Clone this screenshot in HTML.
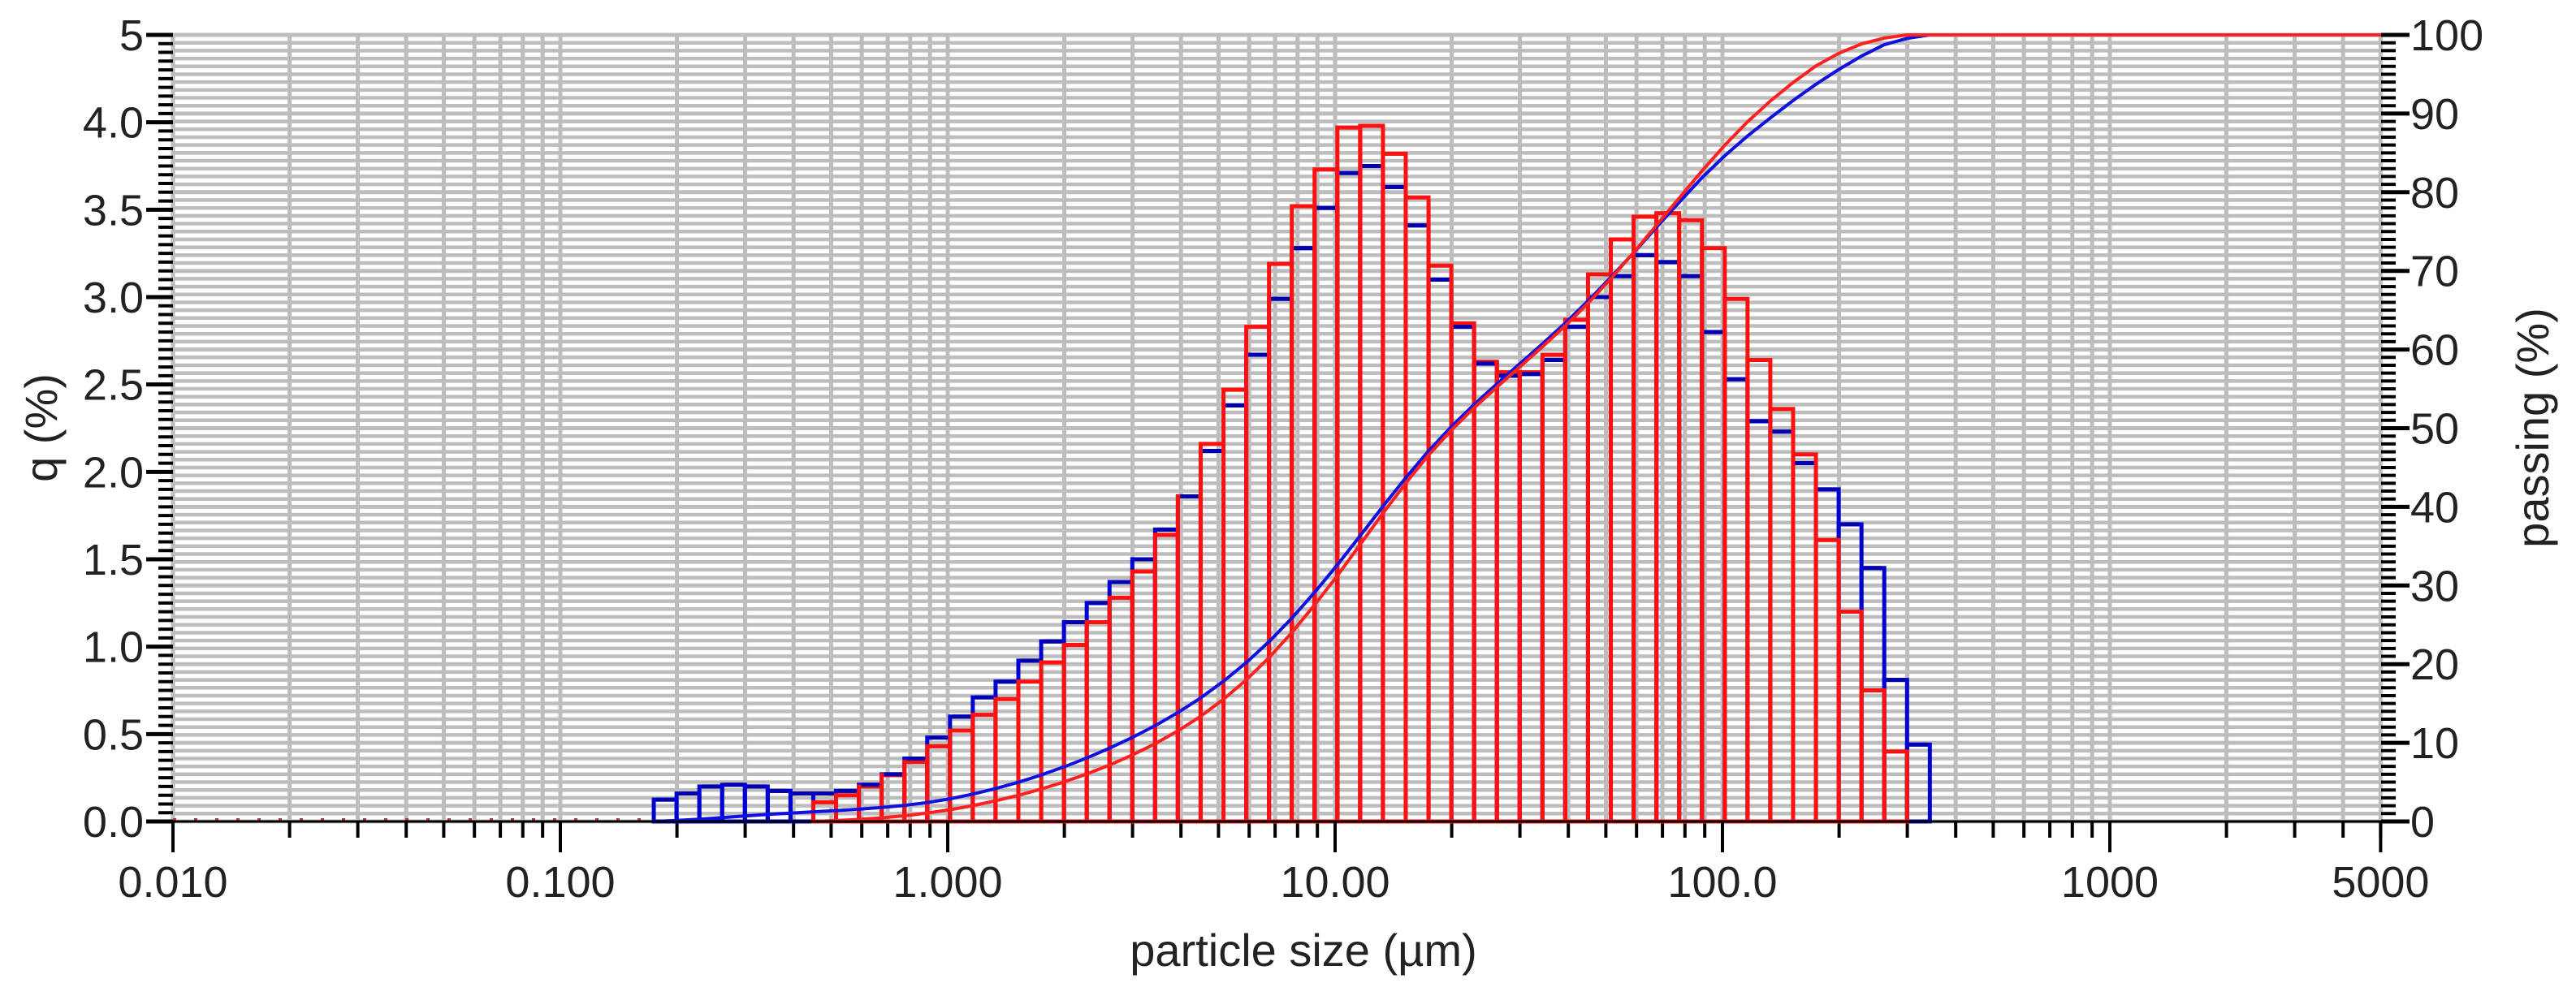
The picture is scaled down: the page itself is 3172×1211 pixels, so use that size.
<!DOCTYPE html>
<html><head><meta charset="utf-8"><style>
html,body{margin:0;padding:0;background:#fff;}
svg{display:block;font-family:"Liberation Sans",sans-serif;}
</style></head><body>
<svg id="chart" width="3172" height="1211" viewBox="0 0 3172 1211" xmlns="http://www.w3.org/2000/svg">
<g id="grid"></g>
<g id="bars"></g>
<g id="curves"></g>
<g id="axes"></g>
<text x="1605" y="1190" font-size="56" text-anchor="middle" fill="#222">particle size (µm)</text>
<text transform="translate(70,527) rotate(-90)" font-size="56" text-anchor="middle" fill="#222">q (%)</text>
<text transform="translate(3138,527) rotate(-90)" font-size="56" text-anchor="middle" fill="#222">passing (%)</text>
</svg>
<script>
// bin index k: bin spans 10^((k+0.1)/17) .. 10^((k+1.1)/17) µm
const blueStart = -13;
const blueQ = [0.125,0.16,0.20,0.21,0.20,0.175,0.16,
 0.16,0.175,0.21,0.27,0.36,0.48,0.60,0.71,0.80,0.92,1.03,1.14,1.25,1.37,1.50,1.67,
 1.86,2.12,2.38,2.67,2.99,3.28,3.51,
 3.71,3.75,3.63,3.41,3.10,2.83,2.62,2.55,2.56,2.64,2.83,3.00,3.12,3.24,3.20,3.12,2.80,2.53,2.29,2.23,2.05,1.90,1.70,1.45,0.81,0.44];
const redStart = -6;
const redQ = [0.11,0.15,0.20,0.265,0.34,0.43,0.52,0.61,0.70,0.80,0.91,1.01,1.14,1.28,1.43,1.64,
 1.86,2.16,2.47,2.83,3.19,3.52,3.73,
 3.97,3.98,3.82,3.57,3.18,2.85,2.63,2.57,2.57,2.67,2.87,3.13,3.33,3.46,3.48,3.44,3.28,2.99,2.64,2.36,2.10,1.61,1.20,0.75,0.40];
const xTicks = [0.01,0.1,1,10,100,1000,5000];
const xTickLabels = ["0.010","0.100","1.000","10.00","100.0","1000","5000"];
const yLeftTicks = [0,0.5,1,1.5,2,2.5,3,3.5,4,4.5];
const yLeftLabels = ["0.0","0.5","1.0","1.5","2.0","2.5","3.0","3.5","4.0","5"];
const yRightTicks = [0,10,20,30,40,50,60,70,80,90,100];

const L=213,R=2932,T=43,B=1012;
const DEC=477, X1=1167;
const NS="http://www.w3.org/2000/svg";
function xs(v){return X1+Math.log10(v)*DEC;}
function yq(v){return B-(v/4.5)*(B-T);}
function yp(v){return B-(v/100)*(B-T);}
function edge(k){return Math.pow(10,(k+0.1)/17);}
function mk(tag,attrs,parent){const e=document.createElementNS(NS,tag);for(const a in attrs)e.setAttribute(a,attrs[a]);parent.appendChild(e);return e;}

const grid=document.getElementById('grid');
mk('rect',{x:L,y:T,width:R-L,height:B-T,fill:'#fff'},grid);
// horizontal grid lines every 1% of right axis
for(let i=0;i<=100;i++){
  const y=yp(i);
  const l=mk('line',{x1:L,x2:R,y1:y,y2:y,stroke:'#bdbdbd','stroke-width':(i%10===0)?5:4.5},grid);
  
  
}
// vertical log grid
for(let d=-2;d<=3;d++){
  for(let m=1;m<=9;m++){
    const v=m*Math.pow(10,d);
    if(v>5000) break;
    const x=xs(v);
    if(x<L-1) continue;
    const l=mk('line',{x1:x,x2:x,y1:T,y2:B,stroke:'#bdbdbd','stroke-width':5},grid);
    
    
    // minor tick below axis
    const t=mk('line',{x1:x,x2:x,y1:B,y2:(m===1)?1048:1032,stroke:'#000','stroke-width':4},grid);
    
    
  }
}

const bars=document.getElementById('bars');
function drawBars(start,vals,color,name){
  vals.forEach((q,i)=>{
    const k=start+i;
    const x0=xs(edge(k)),x1=xs(edge(k+1));
    const r=mk('rect',{x:x0,y:yq(q),width:x1-x0,height:B-yq(q),fill:'none',stroke:color,'stroke-width':5},bars);
    
    
  });
}
drawBars(blueStart,blueQ,'#0000d0','blue-bar');
drawBars(redStart,redQ,'#ff1010','red-bar');
blueQ.forEach((q,i)=>{
  const k=blueStart+i;
  const t=mk('line',{x1:xs(edge(k))+3,x2:xs(edge(k+1))-3,y1:yq(q),y2:yq(q),stroke:'#0000b0','stroke-width':5},bars);
  
  
});

const curves=document.getElementById('curves');
mk('line',{x1:L,x2:xs(edge(blueStart)),y1:B-2,y2:B-2,stroke:'#c03030','stroke-width':4,'stroke-dasharray':'4 22'},curves);
function drawCum(start,vals,color,name){
  const tot=vals.reduce((a,b)=>a+b,0);
  let c=0;const pts=[[xs(edge(start)),yp(0)]];
  vals.forEach((q,i)=>{c+=q;pts.push([xs(edge(start+i+1)),yp(100*c/tot)]);});
  pts.push([R,yp(100)]);
  const p=mk('polyline',{points:pts.map(p=>p[0].toFixed(1)+','+p[1].toFixed(1)).join(' '),fill:'none',stroke:color,'stroke-width':4,'stroke-linejoin':'round'},curves);
  
  
}
drawCum(blueStart,blueQ,'#1010e0','blue-cumulative-curve');
drawCum(redStart,redQ,'#ff2020','red-cumulative-curve');

const axes=document.getElementById('axes');
mk('line',{x1:L,x2:R,y1:B,y2:B,stroke:'#000','stroke-width':3},axes);
xTicks.forEach((v,i)=>{
  const x=xs(v);
  const t=mk('line',{x1:x,x2:x,y1:B,y2:1050,stroke:'#000','stroke-width':4},axes);
  
  
  const tx=mk('text',{x:x,y:1105,'font-size':54,'text-anchor':'middle',fill:'#222'},axes);
  tx.textContent=xTickLabels[i];
  
  
});
// left minor ticks
for(let i=0;i<90;i++){
  const y=yq(i*0.05);
  mk('line',{x1:L-18,x2:L,y1:y,y2:y,stroke:'#000','stroke-width':4},axes);
}
for(let i=0;i<100;i++){
  const y=yp(i);
  mk('line',{x1:R,x2:R+18,y1:y,y2:y,stroke:'#000','stroke-width':4},axes);
}
yLeftTicks.forEach((v,i)=>{
  const y=yq(v);
  mk('line',{x1:L-33,x2:L,y1:y,y2:y,stroke:'#000','stroke-width':5},axes);
  const tx=mk('text',{x:L-36,y:y+19,'font-size':54,'text-anchor':'end',fill:'#222'},axes);
  tx.textContent=yLeftLabels[i];
  
  
});
yRightTicks.forEach(v=>{
  const y=yp(v);
  mk('line',{x1:R,x2:R+35,y1:y,y2:y,stroke:'#000','stroke-width':5},axes);
  const tx=mk('text',{x:R+36,y:y+19,'font-size':54,'text-anchor':'start',fill:'#222'},axes);
  tx.textContent=String(v);
  
  
});
</script>
</body></html>
